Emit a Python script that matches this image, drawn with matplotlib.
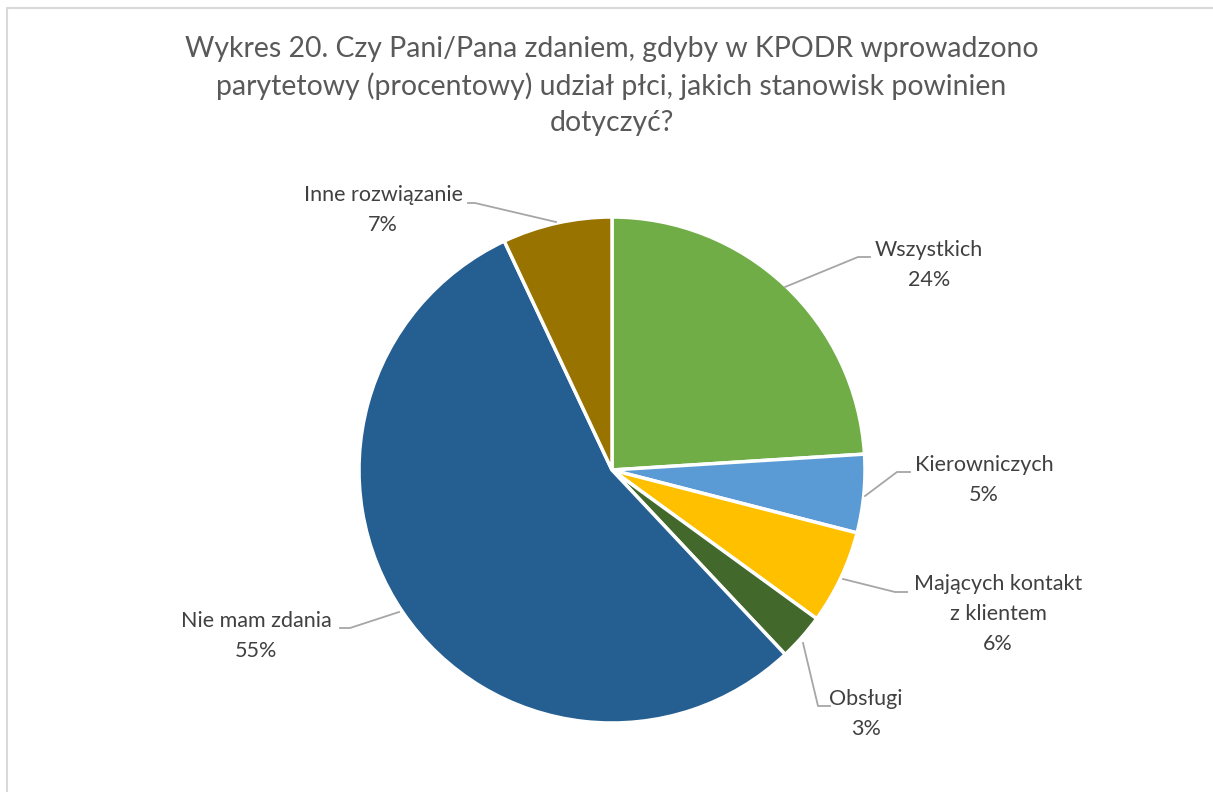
import matplotlib.pyplot as plt
from matplotlib.lines import Line2D

# survey answers, clockwise from 12 o'clock
labels = ['Wszystkich', 'Kierowniczych', 'Mających kontakt\nz klientem', 'Obsługi',
          'Nie mam zdania', 'Inne rozwiązanie']
values = [24, 5, 6, 3, 55, 7]
colors = ['#70AD47', '#5B9BD5', '#FFC000', '#43682B', '#255E91', '#997300']

title = ('Wykres 20. Czy Pani/Pana zdaniem, gdyby w KPODR wprowadzono\n'
         'parytetowy (procentowy) udział płci, jakich stanowisk powinien\n'
         'dotyczyć?')

W, H = 1213, 792
fig = plt.figure(figsize=(W / 100, H / 100), dpi=100)
ax = fig.add_axes([0, 0, 1, 1])
ax.set_xlim(0, W)
ax.set_ylim(0, H)
ax.set_aspect('equal')
ax.axis('off')

# chart frame
ax.add_line(Line2D([7, 7, W + 5], [-5, H - 8, H - 8], color='#D9D9D9', lw=1.5))

cx, cy, r = 612, H - 470, 253
ax.pie(values, colors=colors, startangle=90, counterclock=False,
       center=(cx, cy), radius=r,
       wedgeprops=dict(edgecolor='white', linewidth=2.5))
ax.set_xlim(0, W)
ax.set_ylim(0, H)

font = 'Lato'
ax.text(W / 2 + 5, H - 86, title, ha='center', va='center', fontsize=20.4,
        color='#595959', family=font, linespacing=1.45)

# leader lines (pixel coords from top) and label centres
leaders = [
    [(785, 287), (858, 257), (870, 257)],
    [(865, 496), (897, 472), (910, 472)],
    [(843, 579), (895, 592), (907, 592)],
    [(803, 643), (818, 706), (830, 706)],
    [(399, 612), (350, 628), (340, 628)],
    [(556, 222), (475, 203), (468, 203)],
]
label_pos = [(929, 265), (984, 480), (998, 614), (866, 714), (256, 636), (383, 210)]

for lab, val, pts, (lx, ly) in zip(labels, values, leaders, label_pos):
    xs = [p[0] for p in pts]
    ys = [H - p[1] for p in pts]
    ax.add_line(Line2D(xs, ys, color='#A6A6A6', lw=1.3))
    ax.text(lx, H - ly, f'{lab}\n{val}%', ha='center', va='center',
            fontsize=15.5, color='#404040', family=font, linespacing=1.62)

fig.savefig('out.png', dpi=100)
